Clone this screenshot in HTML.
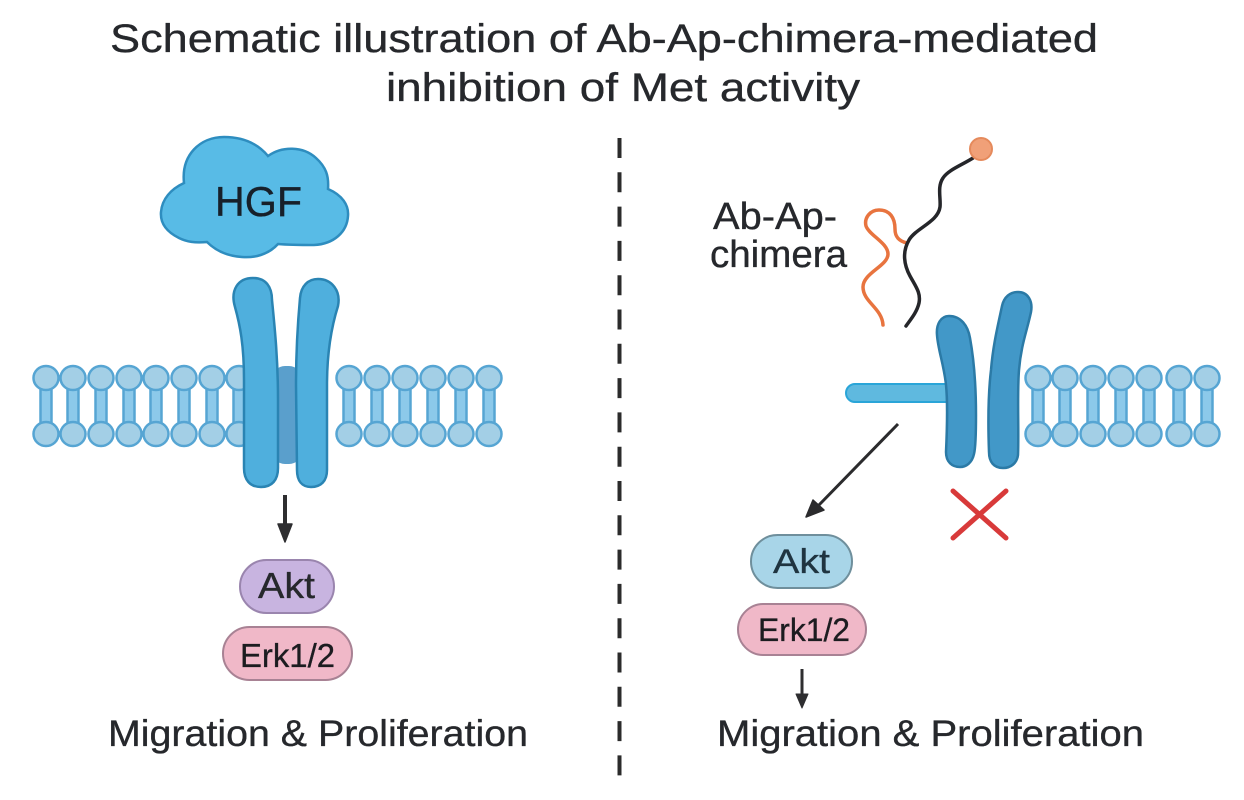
<!DOCTYPE html>
<html>
<head>
<meta charset="utf-8">
<style>
html,body{margin:0;padding:0;background:#fff;width:1244px;height:800px;overflow:hidden}
svg{display:block}
text{font-family:"Liberation Sans",sans-serif;fill:#26282c;stroke:#26282c;stroke-width:.35px}
</style>
</head>
<body>
<svg width="1244" height="800" viewBox="0 0 1244 800" xmlns="http://www.w3.org/2000/svg">
<defs>
<g id="l">
<rect x="-5.500" y="384" width="11" height="44" fill="#8cc9ea" stroke="#56a5d3" stroke-width="2.500"/>
<ellipse cy="378" rx="12.500" ry="12" fill="#a3cfe6" stroke="#56a5d3" stroke-width="2.500"/>
<ellipse cy="434" rx="12.500" ry="12" fill="#a3cfe6" stroke="#56a5d3" stroke-width="2.500"/>
</g>
</defs>
<rect width="1244" height="800" fill="#fff"/>

<text x="110" y="52" font-size="40" textLength="988" lengthAdjust="spacingAndGlyphs">Schematic illustration of Ab-Ap-chimera-mediated</text>
<text x="386" y="101" font-size="40" textLength="474" lengthAdjust="spacingAndGlyphs">inhibition of Met activity</text>

<line x1="619.500" y1="138" x2="619.500" y2="777" stroke="#2b2b2b" stroke-width="4" stroke-dasharray="20 14.300"/>

<!-- Left panel -->
<path d="M184 183 C181 155 200 137 224 137 C243 137 258 144 268 156 C282 146 303 146 316 158 C326 167 329 176 328 189 C342 195 349 205 348 216 C347 232 334 244 314 245 C302 245 290 245 278 244 C268 255 254 258 242 257 C227 256 216 251 207 242 C195 243 187 242 179 238 C167 232 160 224 161 212 C162 199 171 189 184 183 Z" fill="#58bbe6" stroke="#2e8dbf" stroke-width="2.500"/>
<text x="215" y="216" font-size="42" textLength="87" lengthAdjust="spacingAndGlyphs" style="fill:#17202a;stroke:#17202a">HGF</text>

<use href="#l" x="46"/><use href="#l" x="73"/><use href="#l" x="101"/><use href="#l" x="129"/>
<use href="#l" x="156"/><use href="#l" x="184"/><use href="#l" x="212"/><use href="#l" x="239"/>
<use href="#l" x="349"/><use href="#l" x="377"/><use href="#l" x="405"/><use href="#l" x="433"/>
<use href="#l" x="461"/><use href="#l" x="489"/>

<rect x="272" y="366" width="30" height="98" rx="13" fill="#5a9fcc"/>
<path d="M253 278 C266 278 272 287 272 300 C275 330 278 360 278 400 L278 468 C278 480 272 487 261 487 C250 487 244 480 244 468 L244 380 C244 345 240 325 235 307 C230 290 238 278 253 278 Z" fill="#4fafdd" stroke="#2a84b3" stroke-width="2.500"/>
<path d="M318 279 C332 279 341 291 338 306 C332 325 327 350 327 385 L327 470 C327 481 321 487 311 487 C302 487 297 481 297 470 L296 385 C296 345 298 320 300 298 C301 286 308 279 318 279 Z" fill="#4fafdd" stroke="#2a84b3" stroke-width="2.500"/>

<line x1="285" y1="495" x2="285" y2="526" stroke="#2e2e30" stroke-width="4"/>
<path d="M278 524 L292 524 L285 542 Z" fill="#2e2e30" stroke="#2e2e30" stroke-width="1.500" stroke-linejoin="round"/>

<rect x="240" y="560" width="94" height="53" rx="26.500" fill="#c8b4e0" stroke="#9a85ae" stroke-width="2"/>
<text x="258" y="598" font-size="36" textLength="57" lengthAdjust="spacingAndGlyphs">Akt</text>
<rect x="223" y="627" width="129" height="53" rx="26.500" fill="#f0b8c8" stroke="#a88294" stroke-width="2"/>
<text x="240" y="667" font-size="33" textLength="95" lengthAdjust="spacingAndGlyphs" style="fill:#1c1c20;stroke:#1c1c20">Erk1/2</text>

<text x="108" y="746" font-size="37" textLength="420" lengthAdjust="spacingAndGlyphs">Migration &amp; Proliferation</text>

<!-- Right panel -->
<text x="713" y="229" font-size="38" textLength="124" lengthAdjust="spacingAndGlyphs">Ab-Ap-</text>
<text x="710" y="267" font-size="38" textLength="137" lengthAdjust="spacingAndGlyphs">chimera</text>

<path d="M907 243 C898 241 895 236 895 229 C895 218 890 210 879 210 C870 210 864 218 866 226 C869 235 888 243 888 254 C888 266 863 273 863 287 C863 302 882 308 883 325" fill="none" stroke="#e8743f" stroke-width="3.500" stroke-linecap="round"/>
<path d="M973 158 C962 165 948 170 943 178 C937 187 941 198 940 207 C938 222 916 228 909 240 C902 252 904 265 910 276 C916 287 921 293 919 303 C917 312 911 319 906 326" fill="none" stroke="#25262a" stroke-width="3.500" stroke-linecap="round"/>
<circle cx="981" cy="149" r="11" fill="#f0a078" stroke="#e58a5c" stroke-width="2"/>

<rect x="846" y="384" width="110" height="18" rx="9" fill="#5fb9df" stroke="#2aa5d8" stroke-width="2"/>

<path d="M949 316 C961 316 968 326 970 338 C974 360 976 385 976 415 C976 435 975 450 974 454 C972 463 966 467 960 467 C952 467 946 462 946 452 C947 430 948 405 946 385 C944 365 938 350 937 335 C936 324 941 316 949 316 Z" fill="#4298c8" stroke="#2b7aa6" stroke-width="2.500"/>
<path d="M1018 292 C1028 292 1033 301 1031 312 C1027 331 1021 345 1019 370 C1017 395 1019 430 1018 455 C1017 463 1011 468 1003 468 C994 468 989 462 989 452 C988 425 988 395 991 370 C993 345 998 325 1002 306 C1004 297 1010 292 1018 292 Z" fill="#4298c8" stroke="#2b7aa6" stroke-width="2.500"/>

<use href="#l" x="1038"/><use href="#l" x="1065"/><use href="#l" x="1093"/><use href="#l" x="1121"/>
<use href="#l" x="1149"/><use href="#l" x="1179"/><use href="#l" x="1207"/>

<line x1="898" y1="424" x2="818" y2="506" stroke="#2b2b2d" stroke-width="3"/>
<path d="M806 517 L813 500 L824 510 Z" fill="#2b2b2d" stroke="#2b2b2d" stroke-width="1.500" stroke-linejoin="round"/>

<line x1="953" y1="491" x2="1006" y2="538" stroke="#d83a3a" stroke-width="5" stroke-linecap="round"/>
<line x1="1006" y1="491" x2="953" y2="538" stroke="#d83a3a" stroke-width="5" stroke-linecap="round"/>

<rect x="751" y="535" width="101" height="53" rx="26.500" fill="#a8d5e8" stroke="#6f8f9c" stroke-width="2"/>
<text x="773" y="573" font-size="34" textLength="57" lengthAdjust="spacingAndGlyphs" style="fill:#1f3440;stroke:#1f3440">Akt</text>
<rect x="738" y="604" width="128" height="51" rx="25.500" fill="#f0b8c8" stroke="#a88294" stroke-width="2"/>
<text x="758" y="641" font-size="32" textLength="92" lengthAdjust="spacingAndGlyphs" style="fill:#1c1c20;stroke:#1c1c20">Erk1/2</text>

<line x1="802" y1="669" x2="802" y2="696" stroke="#2e2e30" stroke-width="3"/>
<path d="M796 694 L808 694 L802 708 Z" fill="#2e2e30" stroke="#2e2e30" stroke-width="1" stroke-linejoin="round"/>

<text x="717" y="746" font-size="37" textLength="427" lengthAdjust="spacingAndGlyphs">Migration &amp; Proliferation</text>
</svg>
</body>
</html>
